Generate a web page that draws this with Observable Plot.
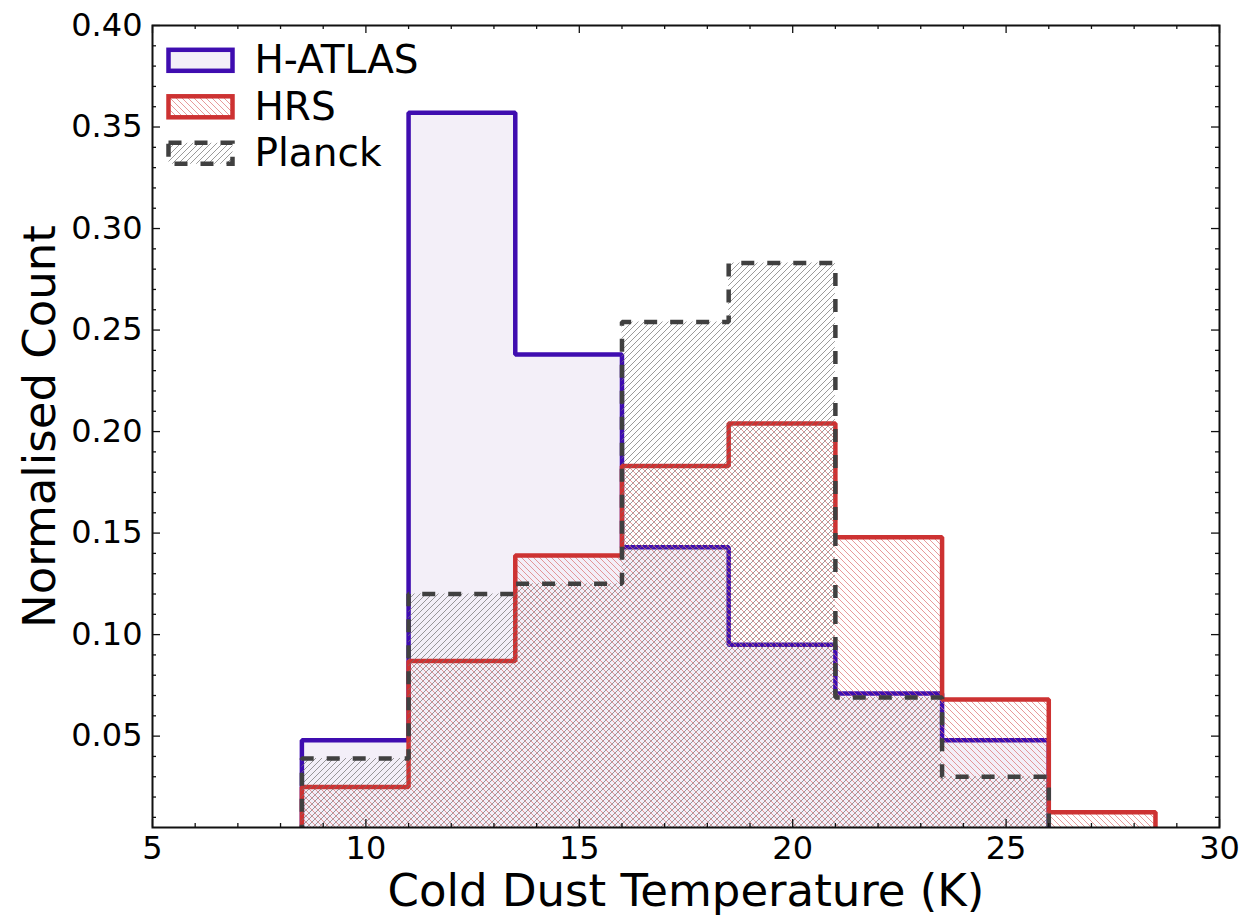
<!DOCTYPE html>
<html>
<head>
<meta charset="utf-8">
<script src="https://cdn.jsdelivr.net/npm/d3@7"></script>
<script src="https://cdn.jsdelivr.net/npm/@observablehq/plot@0.6"></script>
<style>
  html, body { margin: 0; padding: 0; background: #ffffff; }
</style>
</head>
<body>
<div id="chart"></div>
<script>
// ---- data ----
const binEdges = [8.5, 11, 13.5, 16, 18.5, 21, 23.5, 26, 28.5];
const hatlasValues = [0.048, 0.357, 0.238, 0.143, 0.095, 0.071, 0.048, 0.0];
const hrsValues = [0.025, 0.087, 0.139, 0.183, 0.204, 0.148, 0.068, 0.0125];
const planckValues = [0.039, 0.120, 0.125, 0.254, 0.283, 0.069, 0.030, 0.0];
const seriesNames = ["H-ATLAS", "HRS", "Planck"];
const xTickValues = [5, 10, 15, 20, 25, 30];
const yTickValues = [0.05, 0.10, 0.15, 0.20, 0.25, 0.30, 0.35, 0.40];
const xLabel = "Cold Dust Temperature (K)";
const yLabel = "Normalised Count";

// ---- styles ----
const purple = "#3f0db0";
const lavender = "#f3eff8";
const red = "#cd3232";
const gray = "#404040";
const W = 1244, H = 923;
const mL = 152, mR = 25, mT = 25, mB = 96;
const frameW = W - mL - mR, frameH = H - mT - mB;
const majorLen = 8, minorLen = 4;

const xMinor = d3.range(5, 31).filter(v => v % 5 !== 0);
const yMinor = d3.range(1, 40).filter(i => i % 5 !== 0).map(i => i / 100);

function outline(vals) {
  const pts = [{x: binEdges[0], y: 0}];
  vals.forEach((v, i) => pts.push({x: binEdges[i], y: v}));
  pts.push({x: binEdges[binEdges.length - 1], y: 0});
  return pts;
}

const series = [
  {name: seriesNames[0], pts: outline(hatlasValues), fill: lavender, stroke: purple, dash: null},
  {name: seriesNames[1], pts: outline(hrsValues), fill: "url(#hatchHRS)", stroke: red, dash: null},
  {name: seriesNames[2], pts: outline(planckValues), fill: "url(#hatchPlanck)", stroke: gray, dash: "13,13"}
];

const defsMark = () => {
  const g = d3.create("svg:defs");
  const p1 = g.append("pattern").attr("id", "hatchHRS").attr("patternUnits", "userSpaceOnUse")
    .attr("width", 6).attr("height", 6);
  p1.append("path").attr("d", "M0,0L6,6M-1,5L1,7M5,-1L7,1")
    .attr("stroke", "#dc7070").attr("stroke-width", 0.7).attr("fill", "none");
  const p2 = g.append("pattern").attr("id", "hatchPlanck").attr("patternUnits", "userSpaceOnUse")
    .attr("width", 6).attr("height", 6);
  p2.append("path").attr("d", "M0,6L6,0M-1,1L1,-1M5,7L7,5")
    .attr("stroke", "#707070").attr("stroke-width", 0.7).attr("fill", "none");
  return g.node();
};

const legendMark = (index, scales, values, dims) => {
  const g = d3.create("svg:g").attr("text-anchor", "start");
  const x0 = dims.marginLeft + 16.5;
  series.forEach((s, i) => {
    const cy = dims.marginTop + 35.3 + i * 46.5;
    const r = g.append("rect").attr("x", x0).attr("y", cy - 10.5)
      .attr("width", 64).attr("height", 21)
      .attr("fill", s.fill).attr("stroke", s.stroke).attr("stroke-width", 4.5)
      .attr("stroke-linejoin", "miter");
    if (s.dash) r.attr("stroke-dasharray", s.dash);
    g.append("text").attr("x", x0 + 86).attr("y", cy + 13)
      .attr("text-anchor", "start")
      .attr("font-size", 39).attr("fill", "black").text(s.name);
  });
  return g.node();
};

const marks = [defsMark];
series.forEach(s => {
  marks.push(Plot.areaY(s.pts, {x: "x", y1: 0, y2: "y", curve: "step-after", fill: s.fill, clip: true}));
  marks.push(Plot.line(s.pts, {x: "x", y: "y", curve: "step-after", stroke: s.stroke, strokeWidth: 4.5,
    strokeDasharray: s.dash ?? undefined, strokeLinejoin: "miter", strokeLinecap: "butt", clip: true}));
});

const tickStyle = {stroke: "#111", strokeWidth: 1.3};
// ticks: inward on all four sides
marks.push(
  Plot.tickX(xTickValues, {x: d => d, insetTop: frameH - majorLen, ...tickStyle}),
  Plot.tickX(xTickValues, {x: d => d, insetBottom: frameH - majorLen, ...tickStyle}),
  Plot.tickX(xMinor, {x: d => d, insetTop: frameH - minorLen, ...tickStyle}),
  Plot.tickX(xMinor, {x: d => d, insetBottom: frameH - minorLen, ...tickStyle}),
  Plot.tickY(yTickValues, {y: d => d, insetRight: frameW - majorLen, ...tickStyle}),
  Plot.tickY(yTickValues, {y: d => d, insetLeft: frameW - majorLen, ...tickStyle}),
  Plot.tickY(yMinor, {y: d => d, insetRight: frameW - minorLen, ...tickStyle}),
  Plot.tickY(yMinor, {y: d => d, insetLeft: frameW - minorLen, ...tickStyle}),
  Plot.frame({stroke: "#111", strokeWidth: 2}),
  Plot.axisX(xTickValues, {tickSize: 0, tickPadding: 9, fontSize: 32, tickFormat: d => String(d), label: null, fill: "black"}),
  Plot.axisY(yTickValues, {tickSize: 0, tickPadding: 10, fontSize: 32, tickFormat: d => d.toFixed(2), label: null, fill: "black"}),
  Plot.text([xLabel], {text: d => d, frameAnchor: "bottom", dy: 64, lineAnchor: "middle", textAnchor: "middle", fontSize: 45, fill: "black"}),
  Plot.text([yLabel], {text: d => d, frameAnchor: "left", dx: -112, rotate: -90, lineAnchor: "middle", textAnchor: "middle", fontSize: 45, fill: "black"}),
  legendMark
);

const chart = Plot.plot({
  width: W,
  height: H,
  marginLeft: mL,
  marginRight: mR,
  marginTop: mT,
  marginBottom: mB,
  x: {domain: [5, 30]},
  y: {domain: [0.005, 0.4]},
  style: {fontFamily: "'DejaVu Sans', sans-serif", fontSize: "32px", background: "white", color: "black"},
  marks
});
document.getElementById("chart").appendChild(chart);
</script>
</body>
</html>
